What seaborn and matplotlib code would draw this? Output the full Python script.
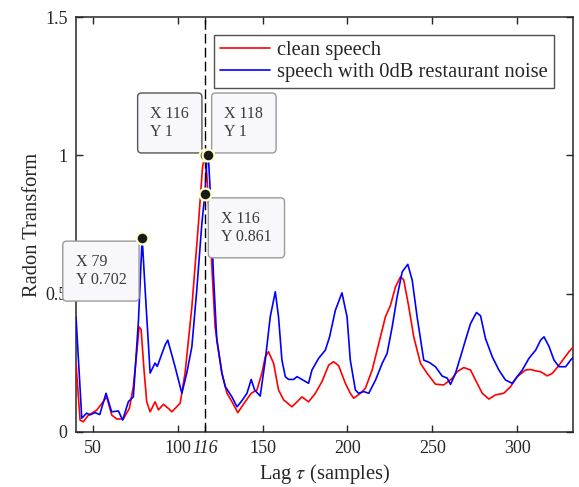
import matplotlib
matplotlib.use("Agg")
import matplotlib.pyplot as plt
import numpy as np
import pandas as pd
import seaborn as sns

# ---------------- data ----------------
series_names = ["clean speech", "speech with 0dB restaurant noise"]
series_colors = ["#FF0000", "#0000FF"]

clean_lag = [40, 42.4, 44.3, 47.2, 52.2, 56.1, 58.1, 61.1, 64, 67.9, 71.5, 73.8,
             75.8, 77.2, 78.4, 80.1, 81.7, 83.7, 86.6, 88.6, 91.5, 94.5, 96.5,
             101.4, 104.3, 108.3, 112.2, 114.6, 116, 117.1, 120.1, 122, 126, 129,
             131.9, 135.4, 139.8, 143.3, 146.7, 149.6, 151.6, 153.5, 156.5, 159.4,
             162.4, 167.3, 170.3, 173.2, 177.1, 181.1, 185, 189, 191.9, 194.8,
             198.8, 201.7, 203.7, 207.7, 210.6, 214.6, 218.5, 222.4, 225.4, 228.3,
             231.3, 233.2, 236.2, 239.1, 243.1, 247, 251.9, 256.8, 261.8, 264.7,
             268.6, 272.6, 275.5, 279.5, 283.4, 287.3, 292.2, 296.2, 300.1, 305,
             307.9, 311, 313.9, 317.8, 320.8, 323.7, 327.7, 330.6, 333.2]
clean_val = [0.248, 0.043, 0.037, 0.06, 0.079, 0.11, 0.127, 0.061, 0.047, 0.047, 0.086, 0.164,
             0.285, 0.38, 0.37, 0.224, 0.109, 0.073, 0.109, 0.08, 0.1, 0.085, 0.073,
             0.104, 0.213, 0.452, 0.754, 0.958, 1.0, 0.934, 0.597, 0.38, 0.213, 0.14,
             0.11, 0.07, 0.11, 0.14, 0.152, 0.213, 0.272, 0.29, 0.248, 0.152,
             0.116, 0.091, 0.109, 0.127, 0.109, 0.14, 0.182, 0.242, 0.254, 0.24,
             0.176, 0.14, 0.122, 0.14, 0.158, 0.224, 0.32, 0.416, 0.458, 0.524,
             0.561, 0.55, 0.452, 0.344, 0.248, 0.212, 0.173, 0.17, 0.194, 0.218,
             0.233, 0.224, 0.188, 0.14, 0.119, 0.134, 0.14, 0.164, 0.2, 0.224,
             0.226, 0.221, 0.218, 0.203, 0.212, 0.233, 0.266, 0.29, 0.308]

noisy_lag = [40, 43.4, 46.3, 48.2, 51.2, 54, 57.7, 61, 65, 67.5, 70.9, 73.8, 76.8,
             79, 80.7, 83.7, 86.6, 87.9, 92.5, 94.1, 98.4, 102.4, 105.3, 108.3,
             111.2, 114.2, 116, 117.1, 118, 119.1, 121, 123, 126, 128, 131.9,
             134.9, 137.8, 140.8, 143.3, 145.3, 148.6, 151.6, 154.5, 157.5, 159.4,
             161.4, 163.4, 165.3, 168.3, 170.3, 173.2, 177.1, 179.1, 183, 187,
             189.5, 192.9, 196.8, 199.8, 201.7, 204.7, 206.6, 209.7, 212.6, 216.6,
             220.5, 223.4, 226.4, 229.3, 232.3, 235.6, 238.2, 241.1, 245, 248.4,
             251.9, 255.9, 258.8, 260.8, 263.7, 266.7, 269.6, 272.6, 276.1, 278.5,
             281.4, 285.4, 289.3, 293.2, 297.2, 300.1, 303.1, 307, 311, 313.9,
             315.9, 318.8, 321.8, 324.7, 328.7, 331.6, 333.2]
noisy_val = [0.416, 0.05, 0.068, 0.062, 0.07, 0.063, 0.14, 0.073, 0.076, 0.043, 0.11, 0.127, 0.40,
             0.702, 0.52, 0.213, 0.249, 0.237, 0.314, 0.332, 0.236, 0.14, 0.213, 0.308,
             0.513, 0.754, 0.861, 0.98, 1.0, 0.874, 0.573, 0.332, 0.213, 0.164, 0.127,
             0.091, 0.113, 0.14, 0.19, 0.152, 0.13, 0.26, 0.416, 0.507, 0.416,
             0.26, 0.2, 0.19, 0.19, 0.2, 0.19, 0.176, 0.224, 0.266, 0.296,
             0.344, 0.44, 0.503, 0.416, 0.26, 0.152, 0.14, 0.146, 0.14, 0.188,
             0.248, 0.284, 0.38, 0.488, 0.579, 0.606, 0.549, 0.416, 0.26, 0.251,
             0.236, 0.202, 0.195, 0.172, 0.212, 0.272, 0.332, 0.392, 0.432, 0.42,
             0.338, 0.272, 0.224, 0.188, 0.176, 0.2, 0.224, 0.266, 0.296, 0.332,
             0.344, 0.31, 0.26, 0.236, 0.236, 0.26, 0.27]

tip_x = [79, 116, 118, 116]
tip_y = [0.702, 1, 1, 0.861]

marker_lag = 116
x_ticks = [50, 100, 116, 150, 200, 250, 300]
x_tick_labels = ["50", "100", "116", "150", "200", "250", "300"]
y_ticks = [0, 0.5, 1, 1.5]
y_tick_labels = ["0", "0.5", "1", "1.5"]

# ---------------- style ----------------
sns.set_theme(style="ticks")
plt.rcParams["font.family"] = ["Liberation Serif", "DejaVu Serif"]
plt.rcParams["mathtext.fontset"] = "stix"
plt.rcParams["axes.edgecolor"] = "#262626"
plt.rcParams["axes.linewidth"] = 1.1

fig = plt.figure(figsize=(5.79, 4.87), dpi=100)
ax = fig.add_axes([76 / 579, 55 / 487, 497 / 579, 415 / 487])

df = pd.concat([
    pd.DataFrame({"lag": clean_lag, "value": clean_val, "series": series_names[0]}),
    pd.DataFrame({"lag": noisy_lag, "value": noisy_val, "series": series_names[1]}),
], ignore_index=True)

sns.lineplot(data=df, x="lag", y="value", hue="series",
             palette=dict(zip(series_names, series_colors)),
             estimator=None, sort=False, lw=1.2, ax=ax, zorder=3)

ax.axvline(marker_lag, color="black", lw=1.0, dashes=(7, 3), zorder=4)

ax.set_xlim(40, 333)
ax.set_ylim(0, 1.5)
ax.set_xticks(x_ticks)
ax.set_xticklabels(x_tick_labels)
ax.set_yticks(y_ticks)
ax.set_yticklabels(y_tick_labels)
for lab, t in zip(ax.get_xticklabels(), x_ticks):
    if t == marker_lag:
        lab.set_style("italic")

ax.tick_params(axis="both", which="both", direction="in", length=5, width=1.0,
               top=True, right=True, labelsize=13, colors="#262626", pad=6)
for sp in ax.spines.values():
    sp.set_visible(True)

ax.set_xlabel(r"Lag $\tau$ (samples)", fontsize=14.8, color="#262626", labelpad=3)
ax.set_ylabel("Radon Transform", fontsize=14.8, color="#262626", labelpad=2)

handles, labels = ax.get_legend_handles_labels()
leg = ax.legend(handles, labels, loc="upper right", bbox_to_anchor=(0.962, 0.957),
                borderaxespad=0, fontsize=14.8, handlelength=2.45, handletextpad=0.33,
                labelspacing=0.12, borderpad=0.3, frameon=True, fancybox=False)
leg.get_frame().set_edgecolor("#262626")
leg.get_frame().set_linewidth(1.0)
leg.set_zorder(10)

# data tips
tip_offsets = [(-29.7, -24.0), (-25.3, 23.3), (25.6, 23.3), (29.9, -24.5)]
tip_edges = ["#9a9a9a", "#555555", "#9a9a9a", "#9a9a9a"]
for (x, y), off, ec in zip(zip(tip_x, tip_y), tip_offsets, tip_edges):
    ax.annotate(f"X {x}\nY {y:g}", xy=(x, y), xytext=off, textcoords="offset points",
                ha="center", va="center", fontsize=11.5, color="#3a3a3a",
                linespacing=1.2, multialignment="left", zorder=7, annotation_clip=False,
                bbox=dict(boxstyle="round,pad=0.8,rounding_size=0.25", fc="#F8F8FC",
                          ec=ec, lw=1.0))
ax.plot(tip_x, tip_y, "o", ms=8.5, mfc="#1a1a1a", mec="#FFFFCC", mew=1.6,
        zorder=8, clip_on=False)

fig.savefig("out.png", dpi=100)
